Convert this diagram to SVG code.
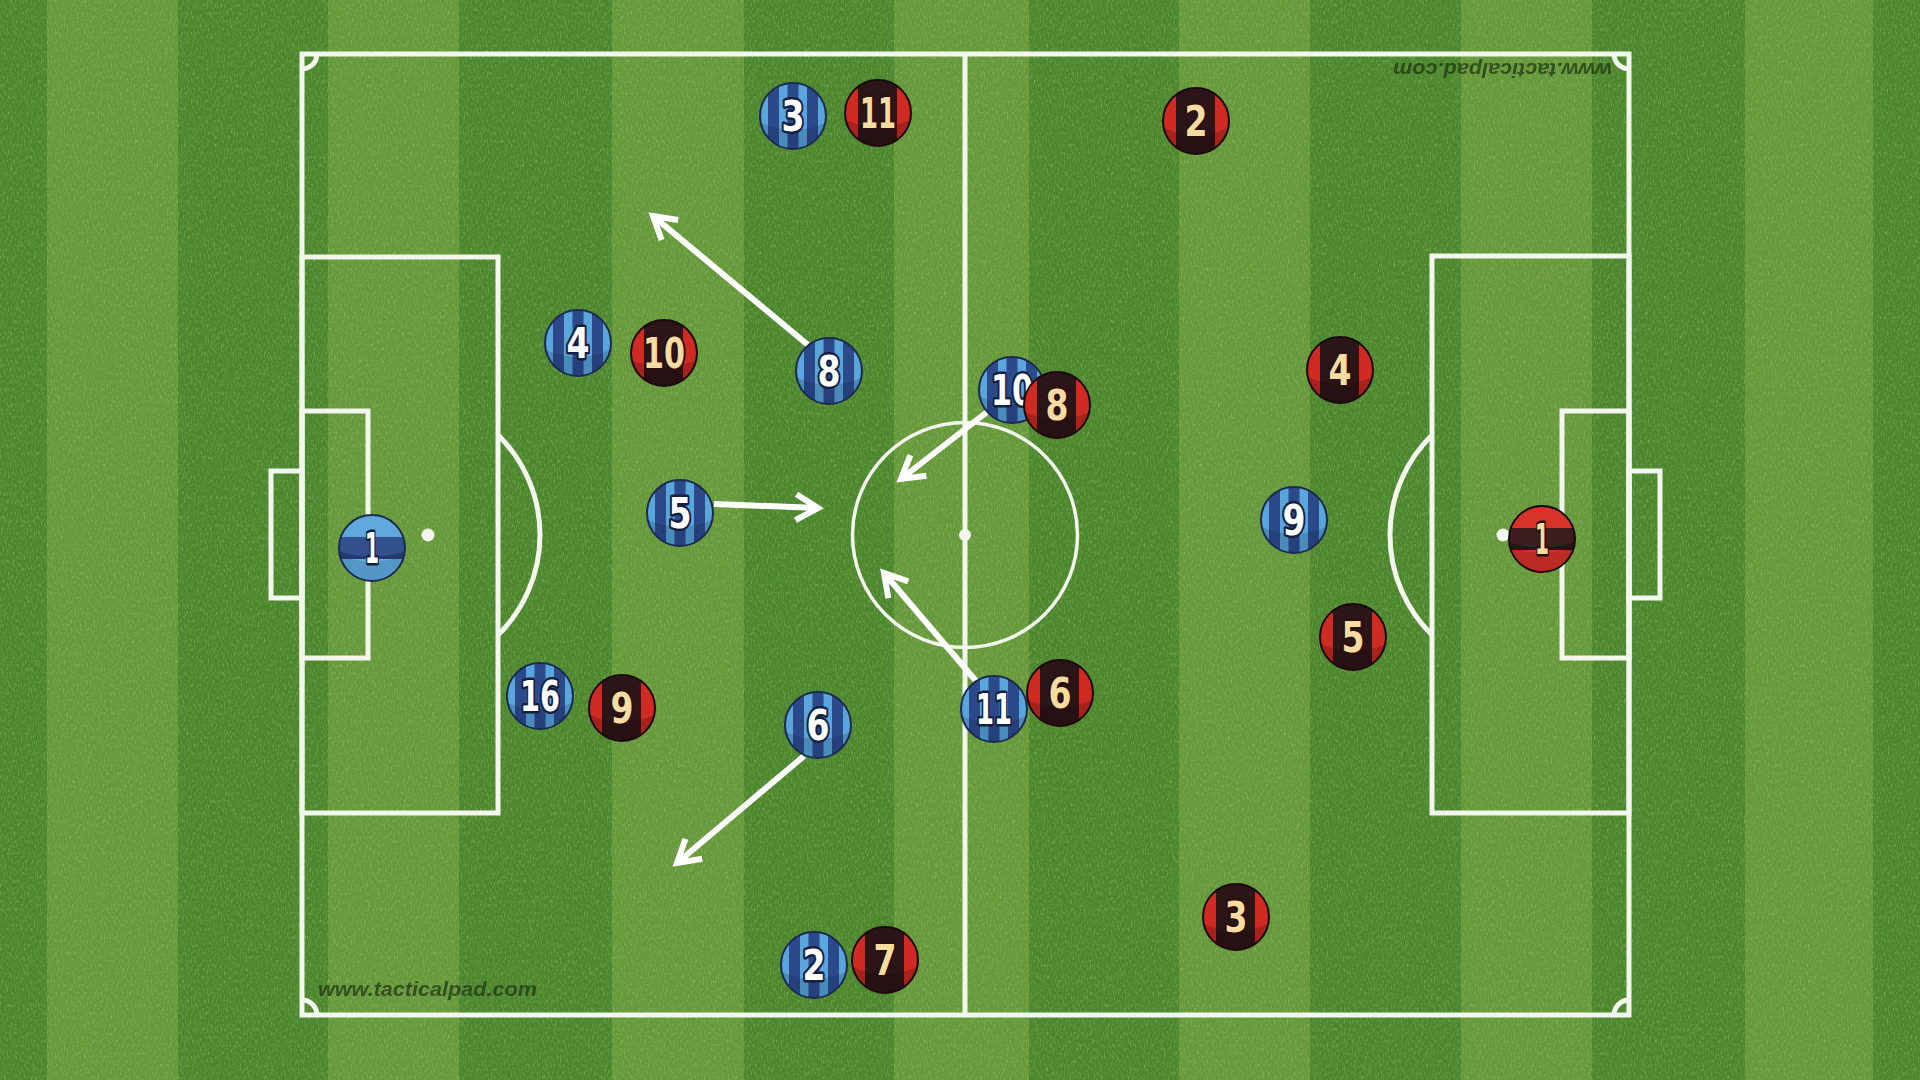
<svg xmlns="http://www.w3.org/2000/svg" xmlns:xlink="http://www.w3.org/1999/xlink" width="1920" height="1080" viewBox="0 0 1920 1080">
<style>
.ln{fill:none;stroke:#f2f6ec;stroke-width:5}
.thin{fill:none;stroke:#f2f6ec;stroke-width:3.5}
.dot{fill:#f4f7ef}
.lite{fill:#66993a}
.arrow{stroke:#ffffff;stroke-width:6;fill:none;marker-end:url(#head)}
.num{font-family:"DejaVu Sans","Liberation Sans",sans-serif;font-weight:bold;font-size:42px;text-anchor:middle;paint-order:stroke;stroke-width:5;stroke-linejoin:round}
.nb{fill:#ffffff;stroke:#15203f}
.nr{fill:#f7dca2;stroke:#2a1010}
.wm{font-family:"Liberation Sans",Arial,sans-serif;font-style:italic;font-weight:bold;font-size:20px;fill:#1e3412;opacity:0.72}
</style>
<defs>
<filter id="grainL" x="0" y="0" width="100%" height="100%">
<feTurbulence type="fractalNoise" baseFrequency="0.7 0.25" numOctaves="3" seed="7"/>
<feColorMatrix type="matrix" values="0 0 0 0 0.62  0 0 0 0 0.78  0 0 0 0 0.35  2.4 0 0 0 -1.15"/>
</filter>
<filter id="grainD" x="0" y="0" width="100%" height="100%">
<feTurbulence type="fractalNoise" baseFrequency="0.6 0.22" numOctaves="3" seed="21"/>
<feColorMatrix type="matrix" values="0 0 0 0 0.15  0 0 0 0 0.3  0 0 0 0 0.08  2.4 0 0 0 -1.15"/>
</filter>
<clipPath id="tc"><circle r="33"/></clipPath>
<marker id="head" markerUnits="userSpaceOnUse" viewBox="-34 -24 44 48" refX="0" refY="0" markerWidth="44" markerHeight="48" orient="auto">
<path d="M-22,-13 L0,0 L-22,13" fill="none" stroke="#ffffff" stroke-width="6" stroke-linejoin="miter"/>
</marker>
<g id="blueTok">
<g clip-path="url(#tc)">
<circle r="33" fill="#5aa5db"/>
<rect x="-25" y="-34" width="11" height="68" fill="#2c4a8a"/>
<rect x="-5.5" y="-34" width="11" height="68" fill="#2c4a8a"/>
<rect x="14" y="-34" width="11" height="68" fill="#2c4a8a"/>
<path d="M-34,6 Q0,22 34,6 L34,34 L-34,34 Z" fill="#081430" opacity="0.18"/>
</g>
<circle r="33" fill="none" stroke="#1b2b50" stroke-width="2"/>
</g>
<g id="redTok">
<g clip-path="url(#tc)">
<circle r="33" fill="#d02b22"/>
<rect x="-20" y="-34" width="39" height="68" fill="#2b1516"/>
<path d="M-34,6 Q0,22 34,6 L34,34 L-34,34 Z" fill="#1a0000" opacity="0.22"/>
</g>
<circle r="33" fill="none" stroke="#1c0a0a" stroke-width="2"/>
</g>
<g id="blueGK">
<g clip-path="url(#tc)">
<circle r="33" fill="#5fa9dd"/>
<rect x="-34" y="-11" width="68" height="22" fill="#35508f"/>
<path d="M-34,3 Q0,14 34,3 L34,11 L-34,11 Z" fill="#253c73"/>
<path d="M-34,6 Q0,22 34,6 L34,34 L-34,34 Z" fill="#081430" opacity="0.12"/>
</g>
<circle r="33" fill="none" stroke="#1b2b50" stroke-width="2"/>
</g>
<g id="redGK">
<g clip-path="url(#tc)">
<circle r="33" fill="#d8332a"/>
<rect x="-34" y="-11" width="68" height="22" fill="#3d1d20"/>
<path d="M-34,3 Q0,14 34,3 L34,11 L-34,11 Z" fill="#2a1214"/>
<path d="M-34,6 Q0,22 34,6 L34,34 L-34,34 Z" fill="#1a0000" opacity="0.15"/>
</g>
<circle r="33" fill="none" stroke="#1c0a0a" stroke-width="2"/>
</g>
</defs>

<g id="grass">
<rect width="1920" height="1080" fill="#4b862c"/>
<rect class="lite" x="47" y="0" width="131" height="1080"/>
<rect class="lite" x="328" y="0" width="131" height="1080"/>
<rect class="lite" x="612" y="0" width="132" height="1080"/>
<rect class="lite" x="894" y="0" width="135" height="1080"/>
<rect class="lite" x="1179" y="0" width="131" height="1080"/>
<rect class="lite" x="1461" y="0" width="131" height="1080"/>
<rect class="lite" x="1745" y="0" width="128" height="1080"/>
<rect width="1920" height="1080" filter="url(#grainL)" opacity="0.35"/>
<rect width="1920" height="1080" filter="url(#grainD)" opacity="0.4"/>
</g>

<g id="pitch">
<rect class="ln" x="302" y="54" width="1327" height="961"/>
<line class="ln" x1="965" y1="54" x2="965" y2="1015" stroke-width="4"/>
<circle class="thin" cx="965" cy="535" r="112.5"/>
<circle class="dot" cx="965" cy="535" r="6"/>
<rect class="ln" x="302" y="257" width="196" height="556" stroke-width="4.5"/>
<rect class="ln" x="302" y="411" width="66" height="247" stroke-width="4.5"/>
<rect class="ln" x="271" y="471" width="31" height="127" stroke-width="4.5"/>
<path class="ln" d="M498,435 A140,140 0 0 1 498,635" stroke-width="4"/>
<circle class="dot" cx="428" cy="535" r="6.5"/>
<rect class="ln" x="1432" y="256" width="197" height="557" stroke-width="4.5"/>
<rect class="ln" x="1562" y="411" width="67" height="247" stroke-width="4.5"/>
<rect class="ln" x="1629" y="471" width="31" height="127" stroke-width="4.5"/>
<path class="ln" d="M1432,435 A140,140 0 0 0 1432,635" stroke-width="4"/>
<circle class="dot" cx="1503" cy="535" r="6.5"/>
<path class="ln" d="M302,69 A15,15 0 0 0 317,54" stroke-width="4"/>
<path class="ln" d="M1614,54 A15,15 0 0 0 1629,69" stroke-width="4"/>
<path class="ln" d="M1629,1000 A15,15 0 0 0 1614,1015" stroke-width="4"/>
<path class="ln" d="M317,1015 A15,15 0 0 0 302,1000" stroke-width="4"/>
</g>

<g id="watermarks">
<text class="wm" x="318" y="996" textLength="219" lengthAdjust="spacingAndGlyphs">www.tacticalpad.com</text>
<text class="wm" x="1393" y="73" textLength="219" lengthAdjust="spacingAndGlyphs" transform="rotate(180 1502.5 68)">www.tacticalpad.com</text>
</g>

<g id="connectors">
<line class="arrow" x1="808" y1="345" x2="653" y2="216"/>
<line class="arrow" x1="714" y1="504" x2="818" y2="508"/>
<line class="arrow" x1="987" y1="412" x2="901" y2="479"/>
<line class="arrow" x1="976" y1="681" x2="884" y2="573"/>
<line class="arrow" x1="804" y1="756" x2="677" y2="863"/>
</g>

<g id="blue-1" transform="translate(372,548)"><use href="#blueGK"/><text class="num nb" y="15" textLength="14" lengthAdjust="spacingAndGlyphs">1</text></g>
<g id="blue-3" transform="translate(793,116)"><use href="#blueTok"/><text class="num nb" y="15" textLength="23" lengthAdjust="spacingAndGlyphs">3</text></g>
<g id="blue-4" transform="translate(578,343)"><use href="#blueTok"/><text class="num nb" y="15" textLength="23" lengthAdjust="spacingAndGlyphs">4</text></g>
<g id="blue-8" transform="translate(829,371)"><use href="#blueTok"/><text class="num nb" y="15" textLength="23" lengthAdjust="spacingAndGlyphs">8</text></g>
<g id="blue-5" transform="translate(680,513)"><use href="#blueTok"/><text class="num nb" y="15" textLength="23" lengthAdjust="spacingAndGlyphs">5</text></g>
<g id="blue-16" transform="translate(540,696)"><use href="#blueTok"/><text class="num nb" y="15" textLength="40" lengthAdjust="spacingAndGlyphs">16</text></g>
<g id="blue-6" transform="translate(818,725)"><use href="#blueTok"/><text class="num nb" y="15" textLength="23" lengthAdjust="spacingAndGlyphs">6</text></g>
<g id="blue-2" transform="translate(814,965)"><use href="#blueTok"/><text class="num nb" y="15" textLength="23" lengthAdjust="spacingAndGlyphs">2</text></g>
<g id="blue-10" transform="translate(1012,390)"><use href="#blueTok"/><text class="num nb" y="15" textLength="42" lengthAdjust="spacingAndGlyphs">10</text></g>
<g id="blue-11" transform="translate(994,709)"><use href="#blueTok"/><text class="num nb" y="15" textLength="36" lengthAdjust="spacingAndGlyphs">11</text></g>
<g id="blue-9" transform="translate(1294,520)"><use href="#blueTok"/><text class="num nb" y="15" textLength="23" lengthAdjust="spacingAndGlyphs">9</text></g>

<g id="red-11" transform="translate(878,113)"><use href="#redTok"/><text class="num nr" y="15" textLength="36" lengthAdjust="spacingAndGlyphs">11</text></g>
<g id="red-2" transform="translate(1196,121)"><use href="#redTok"/><text class="num nr" y="15" textLength="23" lengthAdjust="spacingAndGlyphs">2</text></g>
<g id="red-10" transform="translate(664,353)"><use href="#redTok"/><text class="num nr" y="15" textLength="42" lengthAdjust="spacingAndGlyphs">10</text></g>
<g id="red-4" transform="translate(1340,370)"><use href="#redTok"/><text class="num nr" y="15" textLength="23" lengthAdjust="spacingAndGlyphs">4</text></g>
<g id="red-8" transform="translate(1057,405)"><use href="#redTok"/><text class="num nr" y="15" textLength="23" lengthAdjust="spacingAndGlyphs">8</text></g>
<g id="red-1" transform="translate(1542,539)"><use href="#redGK"/><text class="num nr" y="15" textLength="14" lengthAdjust="spacingAndGlyphs">1</text></g>
<g id="red-5" transform="translate(1353,637)"><use href="#redTok"/><text class="num nr" y="15" textLength="23" lengthAdjust="spacingAndGlyphs">5</text></g>
<g id="red-6" transform="translate(1060,693)"><use href="#redTok"/><text class="num nr" y="15" textLength="23" lengthAdjust="spacingAndGlyphs">6</text></g>
<g id="red-9" transform="translate(622,708)"><use href="#redTok"/><text class="num nr" y="15" textLength="23" lengthAdjust="spacingAndGlyphs">9</text></g>
<g id="red-7" transform="translate(885,960)"><use href="#redTok"/><text class="num nr" y="15" textLength="23" lengthAdjust="spacingAndGlyphs">7</text></g>
<g id="red-3" transform="translate(1236,917)"><use href="#redTok"/><text class="num nr" y="15" textLength="23" lengthAdjust="spacingAndGlyphs">3</text></g>
</svg>
